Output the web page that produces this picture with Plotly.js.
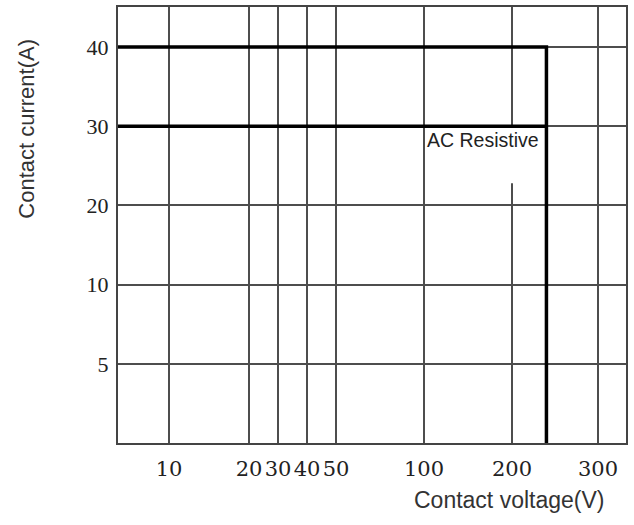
<!DOCTYPE html>
<html>
<head>
<meta charset="utf-8">
<script src="https://cdn.plot.ly/plotly-3.0.1.min.js"></script>
<style>html,body{margin:0;padding:0;background:#fff;}</style>
</head>
<body>
<div id="chart" style="width:634px;height:525px;"></div>
<script>
// ---- data ----
const voltageTicks = [10, 20, 30, 40, 50, 100, 200, 300];   // V
const currentTicks = [5, 10, 20, 30, 40];                    // A
const ratedVoltage = 240;                                    // V (vertical limit)
const ratedCurrents = [40, 30];                              // A (horizontal limits)
const curveLabel = 'AC Resistive';
const xTitle = 'Contact voltage(V)';
const yTitle = 'Contact current(A)';

// ---- axis geometry of the original (non-uniform printed scales) ----
const voltKnots = {v: [10, 20, 30, 40, 50, 100, 200, 300],
                   u: [1.0, 1.3137, 1.4275, 1.5412, 1.6549, 2.0, 2.3451, 2.6824]};
const currKnots = {v: [0, 5, 10, 20, 30, 40], u: [0, 1, 2, 3, 4, 5]};
const xRange = [0.80, 2.792];
const yRange = [0, 5.505];

function interp(k, v) {
  const n = k.v.length;
  let i = 0;
  if (v <= k.v[0]) i = 0;
  else if (v >= k.v[n - 1]) i = n - 2;
  else { while (!(v >= k.v[i] && v <= k.v[i + 1])) i++; }
  const t = (v - k.v[i]) / (k.v[i + 1] - k.v[i]);
  return k.u[i] + t * (k.u[i + 1] - k.u[i]);
}
const X = v => interp(voltKnots, v);
const Y = a => interp(currKnots, a);

const traces = [];
// 40 A limit with the vertical voltage limit down to 0 A
traces.push({
  type: 'scatter', mode: 'lines',
  x: [xRange[0], X(ratedVoltage), X(ratedVoltage)],
  y: [Y(ratedCurrents[0]), Y(ratedCurrents[0]), Y(0)],
  line: {color: '#000', width: 3.5, shape: 'linear'},
  hoverinfo: 'skip', showlegend: false
});
// 30 A limit
traces.push({
  type: 'scatter', mode: 'lines',
  x: [xRange[0], X(ratedVoltage)],
  y: [Y(ratedCurrents[1]), Y(ratedCurrents[1])],
  line: {color: '#000', width: 3.5},
  hoverinfo: 'skip', showlegend: false
});

const tickColor = '#222';
const layout = {
  width: 634, height: 525,
  margin: {l: 118, r: 8, t: 7, b: 82},
  paper_bgcolor: '#fff', plot_bgcolor: '#fff',
  showlegend: false,
  xaxis: {
    type: 'linear', range: xRange, automargin: false,
    tickmode: 'array', tickvals: voltageTicks.map(X), ticktext: voltageTicks.map(String),
    ticks: '', ticklabelstandoff: 6, tickangle: 0,
    tickfont: {family: 'DejaVu Serif', size: 21, color: tickColor},
    showgrid: true, gridcolor: '#4d4d4d', gridwidth: 2,
    zeroline: false, showline: true, mirror: true, linecolor: '#444', linewidth: 2,
    fixedrange: true
  },
  yaxis: {
    type: 'linear', range: yRange, automargin: false,
    tickmode: 'array', tickvals: currentTicks.map(Y), ticktext: currentTicks.map(String),
    ticks: '', ticklabelstandoff: 3, tickangle: 0,
    tickfont: {family: 'Liberation Serif', size: 22, color: tickColor},
    showgrid: true, gridcolor: '#4d4d4d', gridwidth: 2,
    zeroline: false, showline: true, mirror: true, linecolor: '#444', linewidth: 2,
    fixedrange: true
  },
  shapes: [{
    type: 'rect', layer: 'between', xref: 'x', yref: 'y',
    x0: X(100) + 0.006, x1: X(ratedVoltage) - 0.01,
    y0: Y(22.8), y1: Y(ratedCurrents[1]) - 0.02,
    fillcolor: '#fff', line: {width: 0}
  }],
  annotations: [
    {text: curveLabel, xref: 'x', yref: 'y', x: X(100) + 0.002, y: Y(28.2),
     xanchor: 'left', yanchor: 'middle', showarrow: false,
     font: {family: 'Liberation Sans', size: 19.5, color: '#222'}},
    {text: xTitle, xref: 'paper', yref: 'paper', x: 0.7697, y: -0.1307,
     xanchor: 'center', yanchor: 'middle', showarrow: false,
     font: {family: 'Liberation Sans', size: 23, color: '#333'}},
    {text: yTitle, xref: 'paper', yref: 'paper', x: -0.179, y: 0.721, textangle: -90,
     xanchor: 'center', yanchor: 'middle', showarrow: false,
     font: {family: 'Liberation Sans', size: 22, color: '#333'}}
  ]
};

Plotly.newPlot('chart', traces, layout, {displayModeBar: false, staticPlot: true});
</script>
</body>
</html>
